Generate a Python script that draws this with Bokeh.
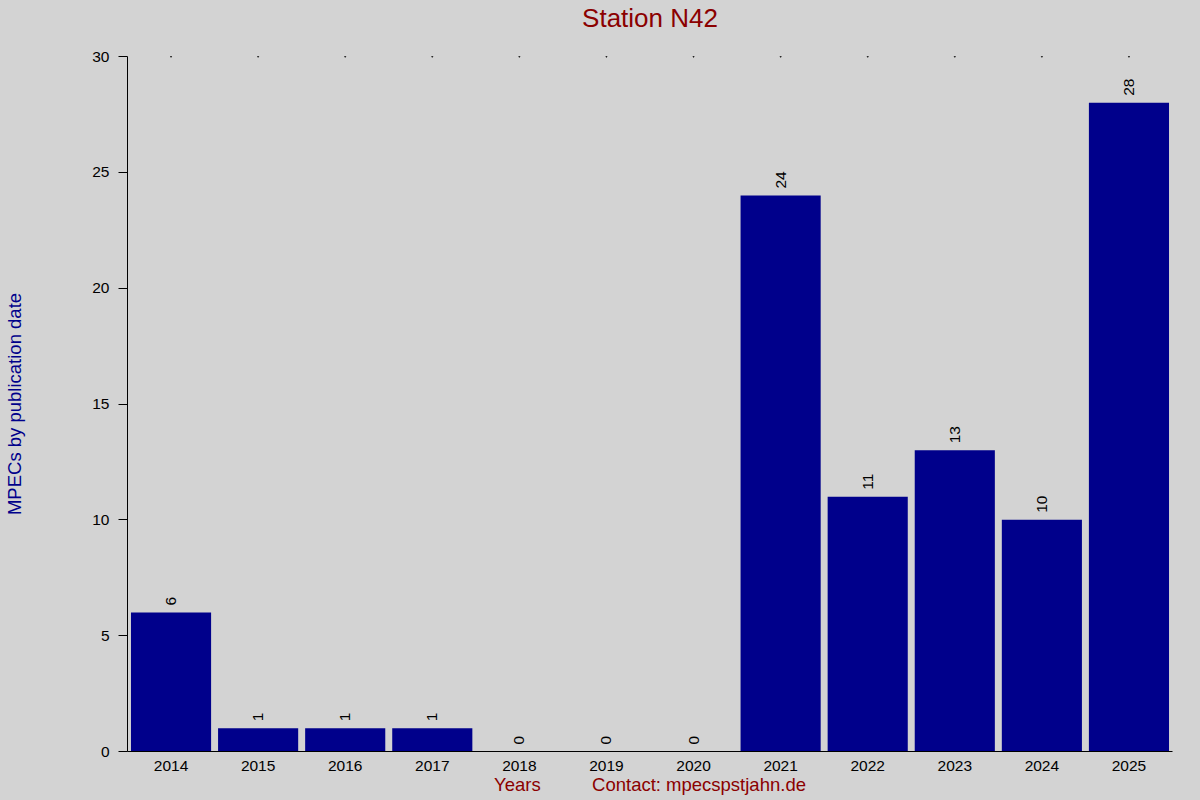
from bokeh.plotting import figure
from bokeh.models import ColumnDataSource, FixedTicker
from bokeh.core.properties import value
from bokeh.embed import file_html
from bokeh.resources import INLINE
import math

years = ["2014", "2015", "2016", "2017", "2018", "2019", "2020",
         "2021", "2022", "2023", "2024", "2025"]
counts = [6, 1, 1, 1, 0, 0, 0, 24, 11, 13, 10, 28]
y_ticks = [0, 5, 10, 15, 20, 25, 30]
y_max = 30

title_text = "Station N42"
y_label_text = "MPECs by publication date"
x_label_text = "Years"
contact_text = "Contact: mpecspstjahn.de"

BG = "#D3D3D3"
FONT = "Liberation Sans"

src = ColumnDataSource(data=dict(
    years=years,
    counts=counts,
    labels=[str(c) for c in counts],
    top=[y_max] * len(years),
))

p = figure(width=1200, height=800, x_range=years, y_range=(0, y_max),
           output_backend="svg", toolbar_location=None, tools="",
           min_border_left=127, min_border_right=28,
           min_border_top=56, min_border_bottom=49)
p.background_fill_color = BG
p.border_fill_color = BG
p.outline_line_color = None
p.xgrid.visible = False
p.ygrid.visible = False

p.vbar(x="years", top="counts", width=0.92, bottom=0, source=src,
       fill_color="#00008B", line_color=None)

p.text(x="years", y="counts", text="labels", source=src, angle=math.pi / 2,
       text_align="left", text_baseline="middle", y_offset=-7,
       text_font=value(FONT), text_font_size="15.5px", text_color="black")

p.scatter(x="years", y="top", source=src, size=1, color="black", marker="square")

# title (a blank second line lifts it away from the plot area)
p.title.text = title_text + "\n\u00a0"
p.title.align = "center"
p.title.vertical_align = "bottom"
p.title.text_font = FONT
p.title.text_font_size = "26px"
p.title.text_font_style = "normal"
p.title.text_line_height = 1.0
p.title.text_color = "#8B0000"
p.title.standoff = -12

# y axis
p.yaxis.ticker = FixedTicker(ticks=y_ticks)
p.yaxis.minor_tick_line_color = None
p.yaxis.major_tick_in = 0
p.yaxis.major_tick_out = 9
p.yaxis.major_label_standoff = 9
p.yaxis.major_label_text_font = FONT
p.yaxis.major_label_text_font_size = "15.5px"
p.yaxis.major_label_text_color = "black"
p.yaxis.axis_line_color = "black"
p.yaxis.major_tick_line_color = "black"
p.yaxis.axis_label = y_label_text
p.yaxis.axis_label_text_font = FONT
p.yaxis.axis_label_text_font_size = "18.5px"
p.yaxis.axis_label_text_font_style = "normal"
p.yaxis.axis_label_text_color = "#00008B"
p.yaxis.axis_label_standoff = 64

# x axis
p.xaxis.major_tick_line_color = None
p.xaxis.major_tick_out = 0
p.xaxis.major_tick_in = 0
p.xaxis.major_label_standoff = 9
p.xaxis.major_label_text_font = FONT
p.xaxis.major_label_text_font_size = "15.5px"
p.xaxis.major_label_text_color = "black"
p.xaxis.axis_line_color = "black"
p.xaxis.axis_label = x_label_text + "\u00a0" * 10 + contact_text
p.xaxis.axis_label_text_font = FONT
p.xaxis.axis_label_text_font_size = "18.5px"
p.xaxis.axis_label_text_font_style = "normal"
p.xaxis.axis_label_text_color = "#8B0000"
p.xaxis.axis_label_standoff = 0

html = file_html(p, INLINE, title="Station N42")
html = html.replace("<head>", "<head><style>html,body{background:%s;}</style>" % BG, 1)
open("out.html", "w").write(html)
